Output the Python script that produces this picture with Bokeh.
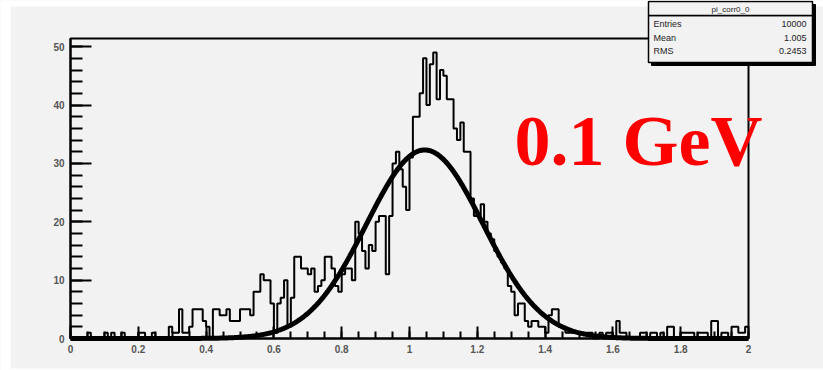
import numpy as np
from bokeh.plotting import figure
from bokeh.models import (Range1d, SingleIntervalTicker, Label, BoxAnnotation,
                          CustomJSTickFormatter, LinearAxis)
from bokeh.embed import file_html
from bokeh.resources import INLINE

# ---------------- data ----------------
x_min, x_max, n_bins = 0.0, 2.0, 200
y_max = 51.4

counts = [
    0, 0, 0, 0, 0, 1, 0, 0, 0, 0,       # 0.00-0.09
    1, 0, 1, 0, 0, 1, 0, 0, 0, 0,       # 0.10-0.19
    1, 1, 0, 0, 1, 0, 0, 0, 0, 2,       # 0.20-0.29
    1, 1, 5, 1, 1, 2, 5, 5, 5, 3,       # 0.30-0.39
    2, 0, 5, 5, 4, 4, 5, 3, 3, 3,       # 0.40-0.49
    5, 5, 5, 4, 8, 8, 11, 10, 10, 6,    # 0.50-0.59
    1, 6, 7, 10, 2, 7, 14, 14, 12, 12,  # 0.60-0.69
    11, 12, 8, 9, 10, 14, 14, 12, 9, 8, # 0.70-0.79
    11, 12, 12, 10, 20, 18, 15, 12, 16, 15,  # 0.80-0.89
    20, 21, 21, 11, 21, 30, 32, 29, 26, 22,  # 0.90-0.99
    31, 38, 38, 42, 48, 40, 47, 49, 41, 46,  # 1.00-1.09
    45, 41, 41, 36, 34, 37, 32, 32, 24, 21,  # 1.10-1.19
    21, 23, 20, 18, 17, 15, 14, 13, 12, 9,   # 1.20-1.29
    8, 4, 6, 6, 3, 2, 3, 3, 2, 2,            # 1.30-1.39
    1, 4, 5, 5, 2, 2, 1, 1, 1, 1,            # 1.40-1.49
    1, 1, 1, 1, 0, 0, 1, 0, 1, 1,            # 1.50-1.59
    0, 3, 1, 1, 0, 0, 0, 0, 1, 1,            # 1.60-1.69
    0, 1, 1, 0, 1, 0, 2, 2, 0, 0,            # 1.70-1.79
    1, 1, 1, 1, 0, 1, 1, 1, 0, 3,            # 1.80-1.89
    3, 0, 1, 1, 0, 2, 2, 1, 1, 2,            # 1.90-1.99
]
assert len(counts) == n_bins

# Gaussian fit parameters
fit_amp = 32.3
fit_mean = 1.045
fit_sigma = 0.172

hist_title = "pi_corr0_0"
stat_names = ["Entries", "Mean", "RMS"]
stat_values = ["10000", "1.005", "0.2453"]
energy_label = "0.1 GeV"

# ---------------- layout (canvas pixels) ----------------
W, H = 823, 370
FL, FR, FT, FB = 70.0, 748.0, 38.0, 338.0   # ROOT frame in canvas pixels
sx = (FR - FL) / (x_max - x_min)
sy = (FB - FT) / y_max


def px_x(px):
    return x_min + (px - FL) / sx


def px_y(py):
    return (FB - py) / sy


BG = "#f2f2f2"

p = figure(width=W, height=H,
           x_range=Range1d(px_x(0), px_x(W)), y_range=Range1d(px_y(H), px_y(0)),
           x_axis_type=None, y_axis_type=None,
           output_backend="svg", toolbar_location=None,
           min_border=0, min_border_left=0, min_border_right=0,
           min_border_top=0, min_border_bottom=0,
           background_fill_color=BG, border_fill_color=BG)
p.outline_line_color = None
p.xgrid.visible = False
p.ygrid.visible = False

# white page edges around the grey canvas (as in the original screenshot)
for l, r, t, b in [(0, 10, 0, H), (0, W, 0, 6), (0, W, 368, H)]:
    p.add_layout(BoxAnnotation(left=px_x(l), right=px_x(r), top=px_y(t), bottom=px_y(b),
                               fill_color="white", fill_alpha=1.0, line_alpha=0))

# histogram
edges = np.linspace(x_min, x_max, n_bins + 1)
p.step(x=list(edges), y=list(counts) + [counts[-1]], mode="after",
       line_color="black", line_width=2)

# fit curve
xs = np.linspace(x_min, x_max, 801)
ys = fit_amp * np.exp(-0.5 * ((xs - fit_mean) / fit_sigma) ** 2)
p.line(xs, ys, line_color="black", line_width=5)

# axes fixed at the ROOT frame edges
xaxis = LinearAxis(fixed_location=0, bounds=(x_min, x_max),
                   ticker=SingleIntervalTicker(interval=0.2, num_minor_ticks=4),
                   formatter=CustomJSTickFormatter(code="return (Math.round(tick*10)/10).toString();"))
yaxis = LinearAxis(fixed_location=x_min, bounds=(0, y_max),
                   ticker=SingleIntervalTicker(interval=10, num_minor_ticks=5))
p.add_layout(xaxis, "below")
p.add_layout(yaxis, "left")
for ax in (xaxis, yaxis):
    ax.axis_line_width = 2
    ax.major_tick_out = 0
    ax.minor_tick_out = 0
    ax.major_tick_line_width = 2
    ax.minor_tick_line_width = 2
    ax.major_label_text_font = "Liberation Sans"
    ax.major_label_text_font_style = "bold"
    ax.major_label_text_font_size = "10px"
    ax.major_label_text_color = "#555555"
    ax.major_label_standoff = 6
xaxis.major_tick_in = 12
xaxis.minor_tick_in = 7
yaxis.major_tick_in = 21
yaxis.minor_tick_in = 12

# ROOT frame box
p.add_layout(BoxAnnotation(left=x_min, right=x_max, bottom=0, top=y_max,
                           fill_alpha=0, line_color="black", line_alpha=1.0, line_width=2))

# big red energy label
p.add_layout(Label(x=px_x(514), y=px_y(140), text=energy_label,
                   text_font="Liberation Serif", text_font_style="bold",
                   text_font_size="72px", text_color="#ff0000",
                   text_baseline="middle", text_align="left"))

# stats box (with ROOT-like shadow)
bl, br, bt, bb, bsep = 648, 812, 1, 62, 15
p.add_layout(BoxAnnotation(left=px_x(bl + 3), right=px_x(br + 3), top=px_y(bt + 3), bottom=px_y(bb + 3),
                           fill_color="black", fill_alpha=1.0, line_color="black", line_alpha=1.0))
p.add_layout(BoxAnnotation(left=px_x(bl), right=px_x(br), top=px_y(bsep), bottom=px_y(bb),
                           fill_color=BG, fill_alpha=1.0, line_color="black", line_alpha=1.0, line_width=1.5))
p.add_layout(BoxAnnotation(left=px_x(bl), right=px_x(br), top=px_y(bt), bottom=px_y(bsep),
                           fill_color=BG, fill_alpha=1.0, line_color="black", line_alpha=1.0, line_width=1.5))
p.add_layout(Label(x=px_x((bl + br) / 2), y=px_y(8.5), text=hist_title,
                   text_font="Liberation Sans", text_font_size="8px", text_color="#222222",
                   text_align="center", text_baseline="middle"))
row_y = [23, 37, 50]
for name, val, ry in zip(stat_names, stat_values, row_y):
    p.add_layout(Label(x=px_x(bl + 5), y=px_y(ry), text=name,
                       text_font="Liberation Sans", text_font_size="9px", text_color="#222222",
                       text_align="left", text_baseline="middle"))
    p.add_layout(Label(x=px_x(br - 6), y=px_y(ry), text=val,
                       text_font="Liberation Sans", text_font_size="9px", text_color="#222222",
                       text_align="right", text_baseline="middle"))

open("out.html", "w").write(file_html(p, INLINE))
